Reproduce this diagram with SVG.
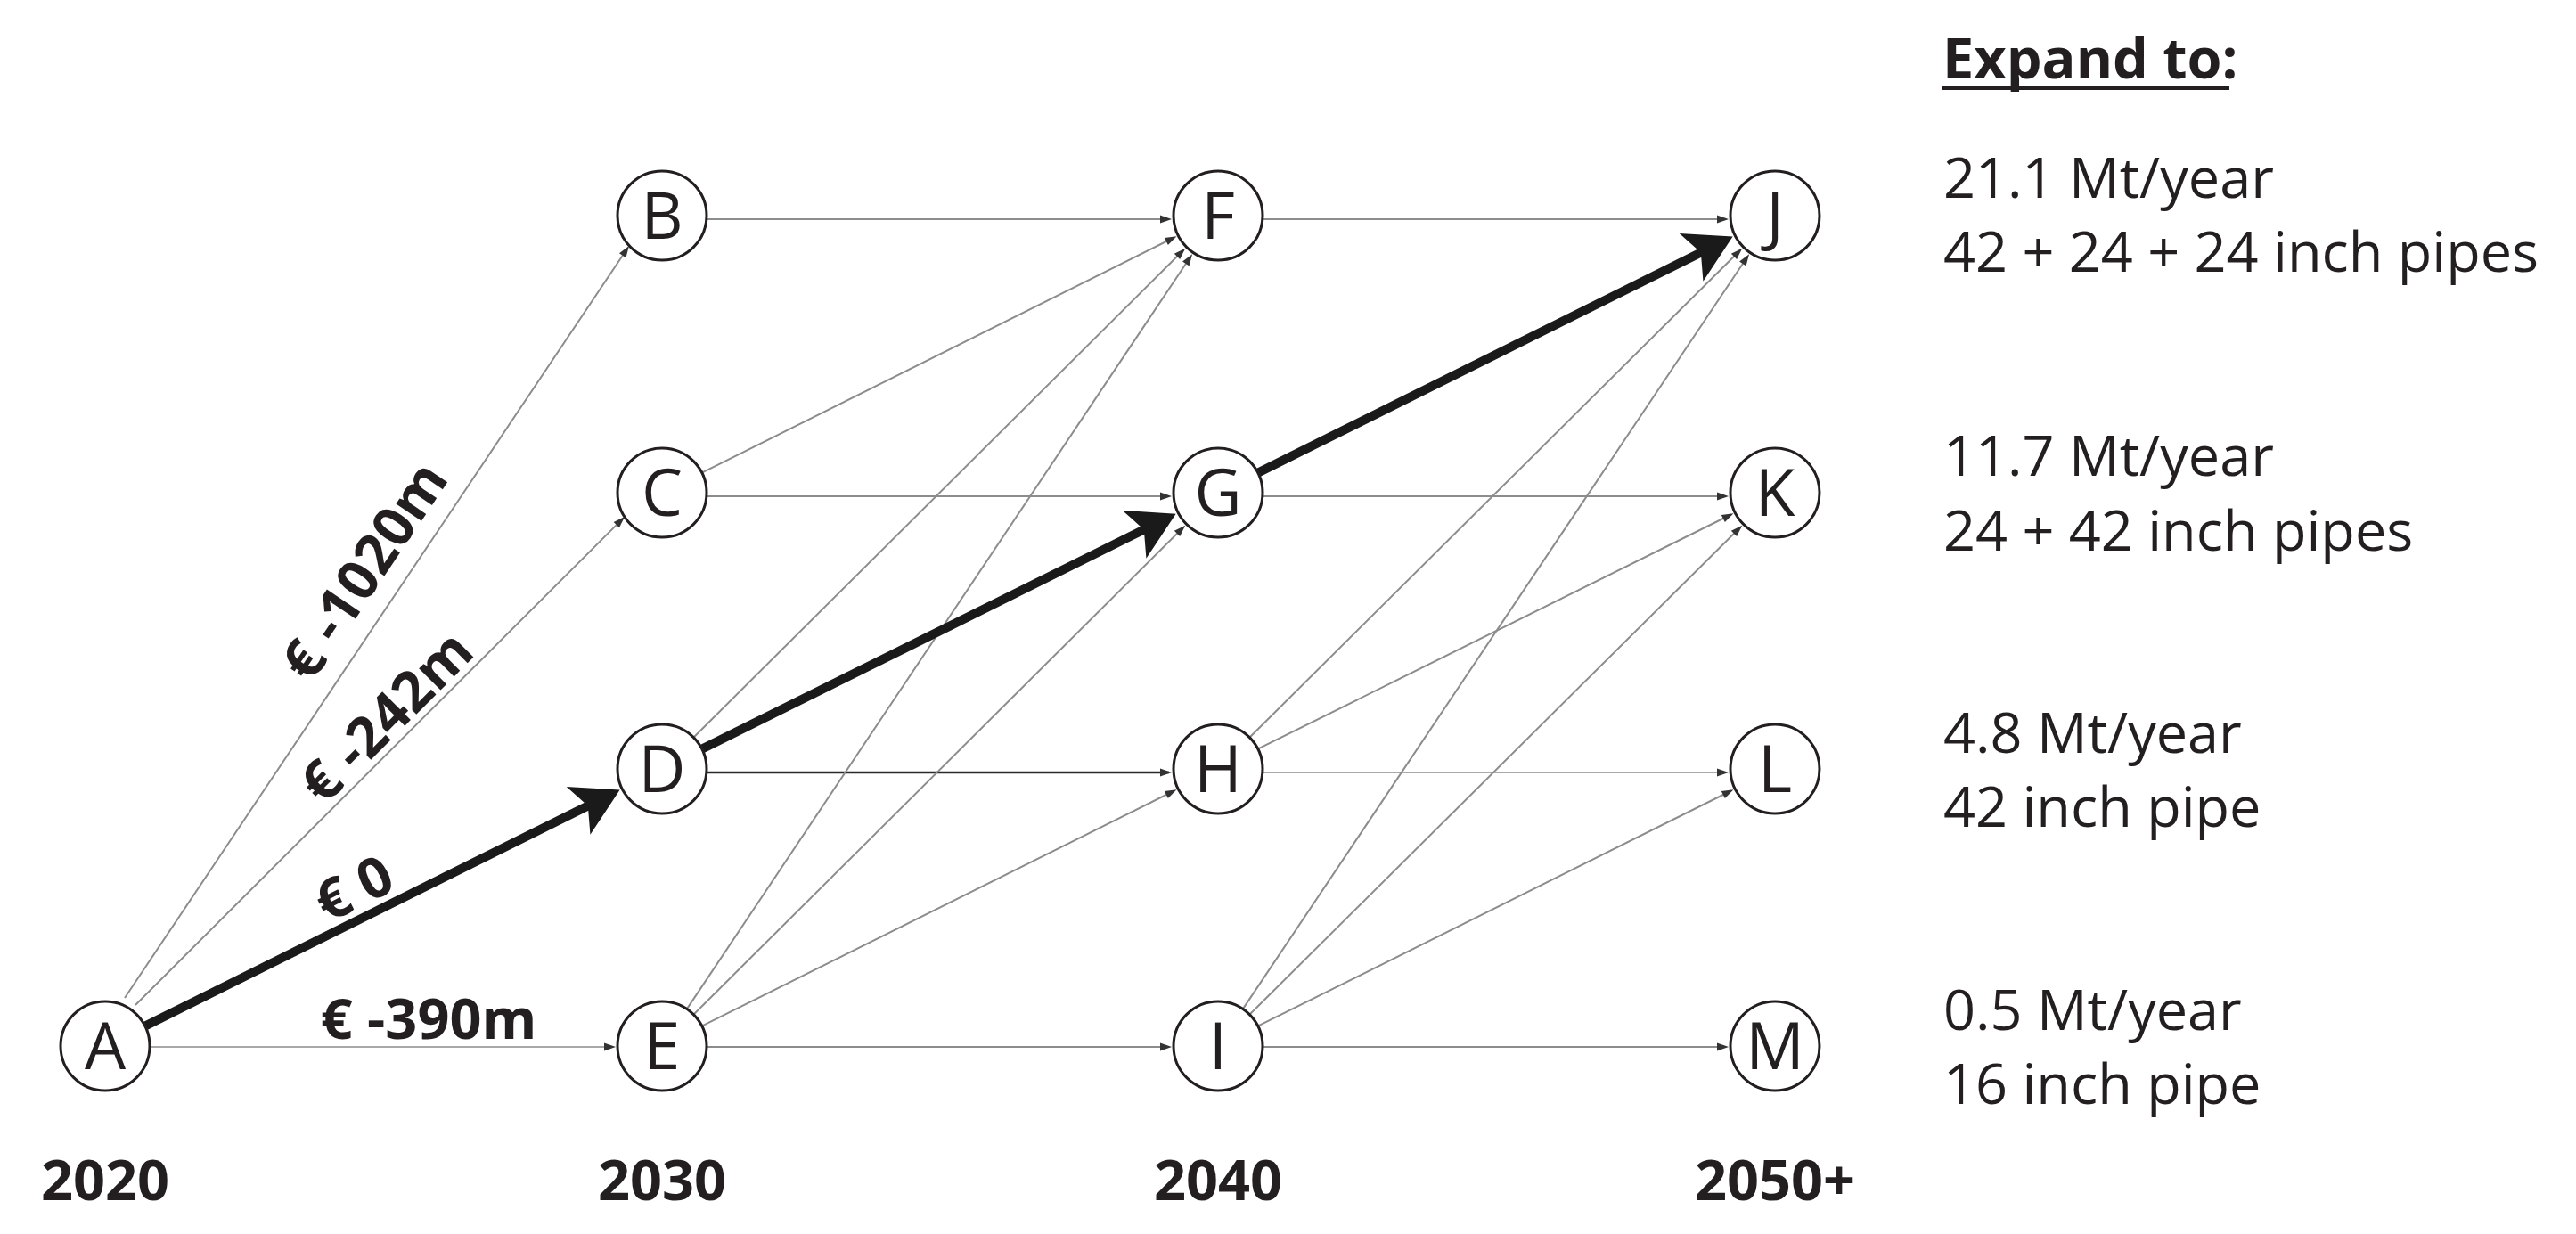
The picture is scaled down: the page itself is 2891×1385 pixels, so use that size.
<svg xmlns="http://www.w3.org/2000/svg" width="2891" height="1385" viewBox="0 0 2891 1385">
<style>
  text { font-family: "Open Sans", "Noto Sans", "Liberation Sans", sans-serif; fill: #231f20; }
  .node circle { fill: #ffffff; stroke: #231f20; stroke-width: 3; }
  .node text { font-size: 73px; text-anchor: middle; }
  .thin { stroke: #8c8c8c; stroke-width: 2; fill: none; marker-end: url(#sm); }
  .dark { stroke: #2b2b2b; stroke-width: 2.5; }
  .light { stroke: #a8a8a8; }
  .thick { stroke: #1a1a1a; stroke-width: 10; fill: none; marker-end: url(#big); }
  .lbl { font-size: 63px; font-weight: bold; text-anchor: middle; }
  .year { font-size: 63px; font-weight: bold; text-anchor: middle; }
  .info { font-size: 63px; }
</style>
<defs>
  <marker id="sm" markerUnits="userSpaceOnUse" orient="auto" refX="0" refY="0" markerWidth="30" markerHeight="30" viewBox="-15 -15 30 30" overflow="visible">
    <path d="M3,0 L-10,-4.5 L-10,4.5 Z" fill="#333333"/>
  </marker>
  <marker id="big" markerUnits="userSpaceOnUse" orient="auto" refX="0" refY="0" markerWidth="80" markerHeight="80" viewBox="-40 -40 80 80" overflow="visible">
    <path d="M35,0 L-17,-30 L-5,0 L-17,30 Z" fill="#1a1a1a"/>
  </marker>
</defs>
<rect x="0" y="0" width="2891" height="1385" fill="#ffffff"/>

<g id="connectors">
  <line class="thin" x1="140" y1="1120" x2="704.3" y2="278.5"/>
  <line class="thin" x1="152" y1="1128" x2="698.9" y2="582.1"/>
  <line class="thin light" x1="169" y1="1175" x2="688" y2="1175"/>
  <line class="thin" x1="794" y1="246" x2="1312" y2="246"/>
  <line class="thin" x1="1418" y1="246" x2="1937" y2="246"/>
  <line class="thin" x1="794" y1="557" x2="1312" y2="557"/>
  <line class="thin" x1="1418" y1="557" x2="1937" y2="557"/>
  <line class="thin dark" x1="794" y1="867" x2="1312" y2="867"/>
  <line class="thin light" x1="1418" y1="867" x2="1937" y2="867"/>
  <line class="thin" x1="794" y1="1175" x2="1312" y2="1175"/>
  <line class="thin" x1="1418" y1="1175" x2="1937" y2="1175"/>
  <line class="thin" x1="788.6" y1="530.2" x2="1317.8" y2="266.5"/>
  <line class="thin" x1="788.6" y1="1151.2" x2="1317.8" y2="887.5"/>
  <line class="thin" x1="1412.6" y1="840.2" x2="1942.8" y2="577.5"/>
  <line class="thin" x1="1412.6" y1="1151.2" x2="1942.8" y2="887.5"/>
  <line class="thin" x1="779.1" y1="827" x2="1328.1" y2="280.8"/>
  <line class="thin" x1="779.1" y1="1138" x2="1328.1" y2="591.8"/>
  <line class="thin" x1="1403.1" y1="827" x2="1953.1" y2="280.8"/>
  <line class="thin" x1="1403.1" y1="1138" x2="1953.1" y2="591.8"/>
  <line class="thin" x1="771.4" y1="1131.6" x2="1336.4" y2="287.7"/>
  <line class="thin" x1="1395.4" y1="1131.6" x2="1961.4" y2="287.7"/>
  <line class="thick" x1="163.6" y1="1151.2" x2="664.3" y2="902.2"/>
  <line class="thick" x1="788.6" y1="840.2" x2="1288.3" y2="592.2"/>
  <line class="thick" x1="1412.6" y1="530.2" x2="1913.3" y2="281.2"/>
</g>

<g id="edge-labels">
  <text class="lbl" transform="translate(427,653) rotate(-56.1)">€ -1020m</text>
  <text class="lbl" transform="translate(449,820) rotate(-45)">€ -242m</text>
  <text class="lbl" transform="translate(407,1017) rotate(-26.5)">€ 0</text>
  <text class="lbl" x="481" y="1166">€ -390m</text>
</g>

<g id="node-A" class="node"><circle cx="118" cy="1174" r="50"/><text x="118" y="1200">A</text></g>
<g id="node-B" class="node"><circle cx="743" cy="242" r="50"/><text x="743" y="268">B</text></g>
<g id="node-C" class="node"><circle cx="743" cy="553" r="50"/><text x="743" y="579">C</text></g>
<g id="node-D" class="node"><circle cx="743" cy="863" r="50"/><text x="743" y="889">D</text></g>
<g id="node-E" class="node"><circle cx="743" cy="1174" r="50"/><text x="743" y="1200">E</text></g>
<g id="node-F" class="node"><circle cx="1367" cy="242" r="50"/><text x="1367" y="268">F</text></g>
<g id="node-G" class="node"><circle cx="1367" cy="553" r="50"/><text x="1367" y="579">G</text></g>
<g id="node-H" class="node"><circle cx="1367" cy="863" r="50"/><text x="1367" y="889">H</text></g>
<g id="node-I" class="node"><circle cx="1367" cy="1174" r="50"/><text x="1367" y="1200">I</text></g>
<g id="node-J" class="node"><circle cx="1992" cy="242" r="50"/><text x="1992" y="268">J</text></g>
<g id="node-K" class="node"><circle cx="1992" cy="553" r="50"/><text x="1992" y="579">K</text></g>
<g id="node-L" class="node"><circle cx="1992" cy="863" r="50"/><text x="1992" y="889">L</text></g>
<g id="node-M" class="node"><circle cx="1992" cy="1174" r="50"/><text x="1992" y="1200">M</text></g>

<g id="years">
  <text class="year" x="118" y="1347">2020</text>
  <text class="year" x="743" y="1347">2030</text>
  <text class="year" x="1367" y="1347">2040</text>
  <text class="year" x="1992" y="1347">2050+</text>
</g>

<g id="legend">
  <text x="2180" y="88" font-size="63" font-weight="bold">Expand to:</text>
  <rect x="2179" y="97" width="323" height="4" fill="#231f20"/>
  <text class="info" x="2181" y="222">21.1 Mt/year</text>
  <text class="info" x="2181" y="305">42 + 24 + 24 inch pipes</text>
  <text class="info" x="2181" y="534">11.7 Mt/year</text>
  <text class="info" x="2181" y="618">24 + 42 inch pipes</text>
  <text class="info" x="2181" y="845">4.8 Mt/year</text>
  <text class="info" x="2181" y="928">42 inch pipe</text>
  <text class="info" x="2181" y="1156">0.5 Mt/year</text>
  <text class="info" x="2181" y="1239">16 inch pipe</text>
</g>
</svg>
